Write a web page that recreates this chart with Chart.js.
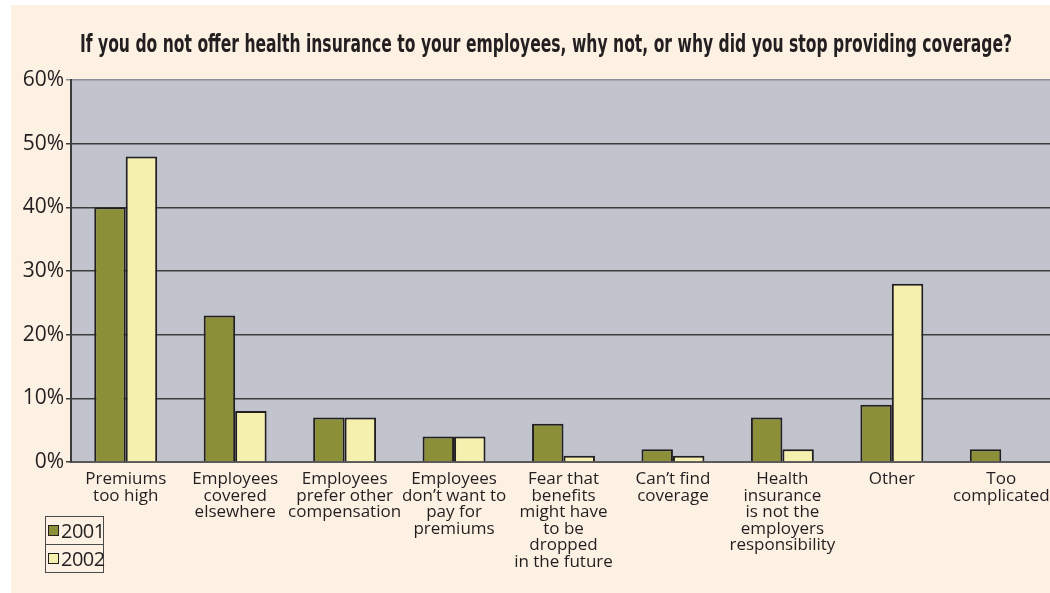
<!DOCTYPE html>
<html>
<head>
<meta charset="utf-8">
<script src="https://cdn.jsdelivr.net/npm/chart.js@4.4.0/dist/chart.umd.min.js"></script>
<style>
  html, body { margin: 0; padding: 0; background: #ffffff; overflow: hidden; width: 1050px; height: 593px; }
  #bg { position: absolute; left: 11px; top: 5px; width: 1050px; height: 588px; background: #fcf1e3; }
  #wrap { position: absolute; left: 0; top: 0; width: 1060px; height: 593px; }
  #title { position: absolute; left: 80px; top: 30px; white-space: nowrap; transform-origin: 0 0;
    font-family: "DejaVu Sans", sans-serif; font-stretch: condensed; font-weight: bold;
    font-size: 24px; line-height: 28px; color: #231f20; }
  #legend { position: absolute; left: 45px; top: 516px; width: 57px; border: 1.5px solid #4a4a4a; background: #fcf1e3; }
  .lrow { height: 27px; display: flex; align-items: center; font-family: "Open Sans", sans-serif; font-size: 20px; color: #231f20; letter-spacing: -0.5px; }
  .lrow + .lrow { border-top: 1.5px solid #4a4a4a; }
  .sw { flex: 0 0 auto; box-sizing: border-box; width: 11px; height: 11px; border: 1.5px solid #231f20; margin: 0 2px 0 2px; }
</style>
</head>
<body>
<div id="bg"></div>
<div id="wrap"><canvas id="c" width="1060" height="593"></canvas></div>
<div id="title">If you do not offer health insurance to your employees, why not, or why did you stop providing coverage?</div>
<div id="legend"></div>
<script>
const categories = [
  ["Premiums", "too high"],
  ["Employees", "covered", "elsewhere"],
  ["Employees", "prefer other", "compensation"],
  ["Employees", "don\u2019t want to", "pay for", "premiums"],
  ["Fear that", "benefits", "might have", "to be", "dropped", "in the future"],
  ["Can\u2019t find", "coverage"],
  ["Health", "insurance", "is not the", "employers", "responsibility"],
  ["Other"],
  ["Too", "complicated"]
];
const seriesNames = ["2001", "2002"];
const values2001 = [40, 23, 7, 4, 6, 2, 7, 9, 2];
const values2002 = [48, 8, 7, 4, 1, 1, 2, 28, null];
const yTicks = [0, 10, 20, 30, 40, 50, 60];
const colors = ["#8b8f37", "#f6f0ae"];

const t = document.getElementById('title');
const tw = t.getBoundingClientRect().width;
t.style.transform = 'scaleX(' + (932 / tw) + ')';

const plotBg = {
  id: 'plotBg',
  beforeDraw(chart) {
    const {ctx, chartArea: a} = chart;
    ctx.save();
    ctx.fillStyle = '#c1c4cc';
    ctx.fillRect(a.left, a.top, a.right - a.left, a.bottom - a.top);
    ctx.restore();
  }
};

const chart = new Chart(document.getElementById('c'), {
  type: 'bar',
  data: {
    labels: categories,
    datasets: [
      { label: seriesNames[0], data: values2001, backgroundColor: colors[0], borderColor: '#231f20', borderWidth: 2, borderSkipped: 'bottom' },
      { label: seriesNames[1], data: values2002, backgroundColor: colors[1], borderColor: '#231f20', borderWidth: 2, borderSkipped: 'bottom' }
    ]
  },
  plugins: [plotBg],
  options: {
    responsive: false,
    animation: false,
    layout: { padding: { left: 0, right: 4, top: 80, bottom: 0 } },
    datasets: { bar: { categoryPercentage: 0.575, barPercentage: 1.0 } },
    plugins: { legend: { display: false }, title: { display: false }, tooltip: { enabled: false } },
    scales: {
      x: {
        grid: { display: false },
        border: { color: '#5a5a5a', width: 2 },
        ticks: {
          color: '#231f20', maxRotation: 0, autoSkip: false, padding: 1,
          font: { family: "'Open Sans', sans-serif", size: 17, lineHeight: 0.97 }
        },
        afterFit(s) { s.height = 131; }
      },
      y: {
        min: 0, max: 60,
        afterBuildTicks(s) { s.ticks = yTicks.map(v => ({ value: v })); },
        grid: { color: ctx => ctx.tick && ctx.tick.value === 60 ? '#8a8f98' : '#3c3c3c', lineWidth: 1.5, tickLength: 5, drawTicks: true },
        border: { color: '#3c3c3c', width: 2 },
        ticks: {
          color: '#231f20', padding: 2,
          font: { family: "'Open Sans', sans-serif", size: 21 },
          callback: v => v + '%'
        },
        afterFit(s) { s.width = 71; }
      }
    }
  }
});

const lg = document.getElementById('legend');
seriesNames.forEach((n, i) => {
  const r = document.createElement('div');
  r.className = 'lrow';
  r.innerHTML = '<div class="sw" style="background:' + colors[i] + '"></div><span>' + n + '</span>';
  lg.appendChild(r);
});
</script>
</body>
</html>
